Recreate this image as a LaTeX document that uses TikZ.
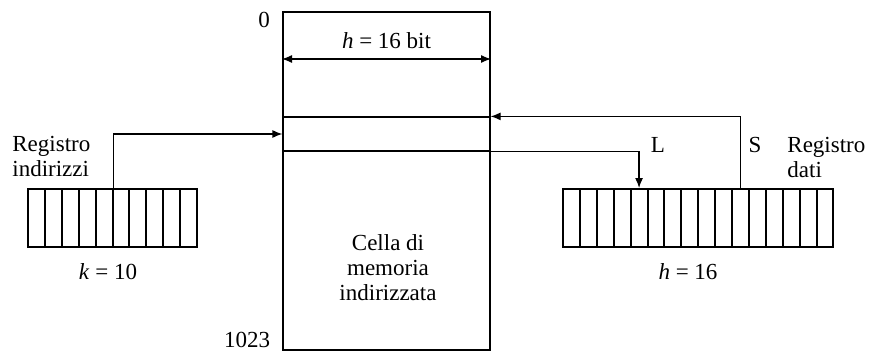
\documentclass[tikz,border=0pt]{standalone}
\usepackage{fontspec}
\setmainfont{Liberation Serif}
\usetikzlibrary{arrows.meta,calc}

\begin{document}
\begin{tikzpicture}[x=0.5pt,y=-0.5pt, font=\fontsize{11.5}{12.5}\selectfont,
  bit/.style={draw,line width=1pt,minimum width=8.45pt,minimum height=29pt,inner sep=0pt},
  wire/.style={line width=0.6pt,-{Latex[length=5pt,width=4pt]}},
  txt/.style={inner sep=0pt}]
\useasboundingbox (0,0) rectangle (872,353);

% memoria e cella selezionata
\node [draw,line width=0.6pt,minimum width=103.5pt,minimum height=17pt,inner sep=0pt] (cella) at (386.5,134) {};
\node [draw,line width=1pt,minimum width=103.5pt,minimum height=169pt,inner sep=0pt] (mem) at (386.5,181) {};
\node [txt] (zero) at (264,20) {0};
\node [txt] (last) at (247,340) {1023};
\node [txt,align=center] (didasc) at (388,268) {Cella di\\memoria\\indirizzata};

% registri
\foreach \i in {1,...,10}
  \node [bit] (a\i) at ({28+16.9*(\i-0.5)},218) {};
\foreach \i in {1,...,16}
  \node [bit] (d\i) at ({563+16.9*(\i-0.5)},218) {};
\node [txt,align=left,anchor=north west] (regind) at (12,136) {Registro\\indirizzi};
\node [txt,align=left,anchor=north west] (regdat) at (787,137) {Registro\\dati};
\node [txt] (k) at (108,272) {\textit{k} = 10};
\node [txt] (h) at (688,272) {\textit{h} = 16};

% collegamenti
\draw [line width=0.6pt,{Latex[length=5pt,width=4pt]}-{Latex[length=5pt,width=4pt]}] ($(mem.north west)+(0,48)$) -- ($(mem.north east)+(0,48)$) node[midway,above=5pt,txt] {\textit{h} = 16 bit};
\draw [wire] (a5.north east) |- (cella.west);
\draw [wire] (d11.north) |- (cella.north east);
\draw [wire] (cella.south east) -| (d5.north);
\node [txt] (lett) at (658,145) {L};
\node [txt] (scritt) at (755,145) {S};
\end{tikzpicture}
\end{document}
